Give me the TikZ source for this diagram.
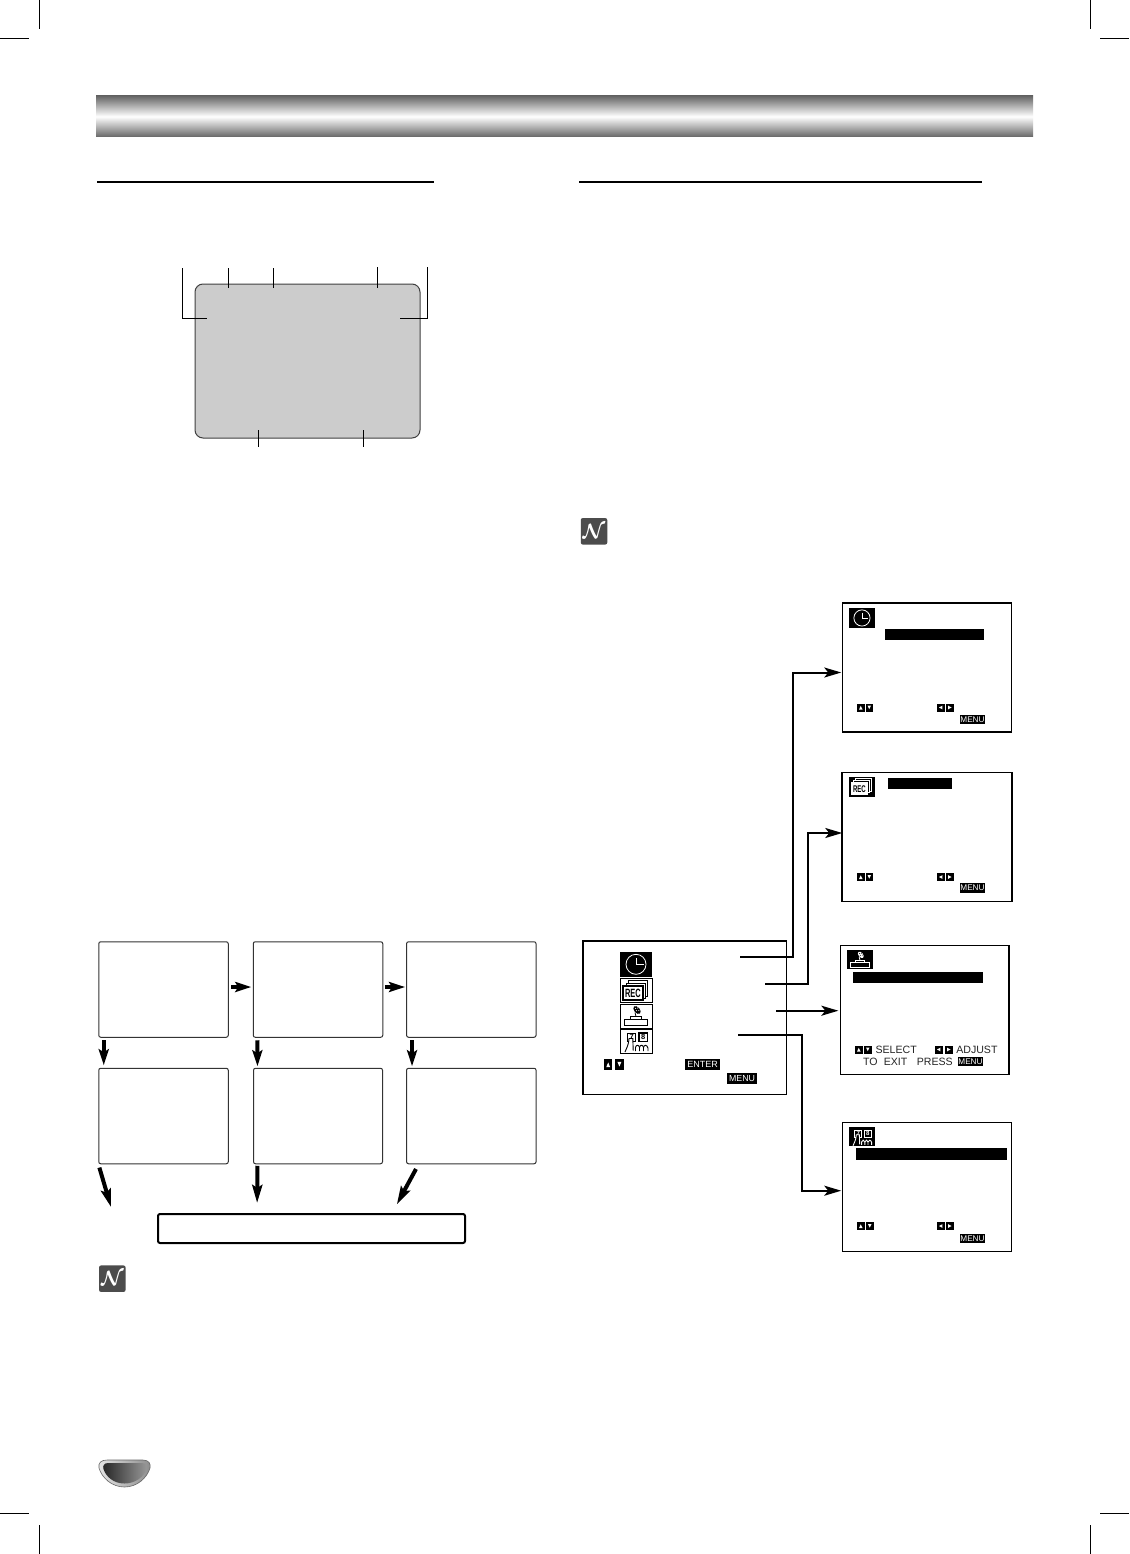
\documentclass[tikz,border=0pt]{standalone}
\usepackage{fontspec}
\setmainfont{Liberation Sans}
\usetikzlibrary{arrows.meta}
\definecolor{bargray}{gray}{0.40}
\definecolor{screengray}{gray}{0.80}
\definecolor{notegray}{gray}{0.30}
\tikzset{
  crop/.style={line width=1pt,black},
  rulehead/.style={line width=2pt,black},
  tick/.style={line width=1pt,black},
  flowbox/.style={draw=black!80,line width=1pt,rounded corners=2pt,fill=white,inner sep=0pt,outer sep=0pt,minimum width=129.5pt,minimum height=95.5pt},
  barbox/.style={draw=black,line width=2pt,rounded corners=2pt,fill=white,inner sep=0pt,outer sep=0pt,minimum width=307pt,minimum height=29pt},
  flowarrow/.style={line width=4pt,-{Stealth[length=16pt,width=10pt,inset=3pt]}},
  longarrow/.style={line width=4pt,-{Stealth[length=18pt,width=10pt,inset=3pt]}},
  menubox/.style={draw=black,line width=1.5pt,fill=white,inner sep=0pt,outer sep=0pt},
  screenbox/.style={draw=black,line width=1.2pt,fill=white,inner sep=0pt,outer sep=0pt,minimum width=169.5pt,minimum height=129pt},
  link/.style={line width=2pt,black,-{Stealth[length=17pt,width=10pt,inset=4pt]}},
  keylabel/.style={fill=black,text=white,inner sep=0pt,outer sep=0pt,font=\fontsize{8.2}{8.2}\selectfont},
  osd/.style={inner sep=0pt,outer sep=0pt,text=black!85,font=\fontsize{10.6}{10.6}\selectfont,anchor=west},
  notebadge/.style={fill=notegray,rounded corners=2pt,inner sep=0pt,outer sep=0pt,minimum width=26.5pt,minimum height=26.5pt,text=white,font=\fontsize{20.74}{20.74}\selectfont\boldmath},
}
\newcommand\btnU[2]{\begin{scope}[shift={(#1,#2)}]\fill[black] (0,0) rectangle (7.5,8);\fill[white] (2,6)--(5.5,6)--(3.75,2.4)--cycle;\end{scope}}
\newcommand\btnD[2]{\begin{scope}[shift={(#1,#2)}]\fill[black] (0,0) rectangle (7.5,8);\fill[white] (2,2)--(5.5,2)--(3.75,5.6)--cycle;\end{scope}}
\newcommand\btnL[2]{\begin{scope}[shift={(#1,#2)}]\fill[black] (0,0) rectangle (7.5,8);\fill[white] (5.3,2.2)--(5.3,5.8)--(2,4)--cycle;\end{scope}}
\newcommand\btnR[2]{\begin{scope}[shift={(#1,#2)}]\fill[black] (0,0) rectangle (7.5,8);\fill[white] (2.2,2.2)--(2.2,5.8)--(5.5,4)--cycle;\end{scope}}
% icons: drawn in a 32 x 24.5 box; #1 x, #2 y, #3 scale, #4 background, #5 ink
\newcommand\iconclock[5]{\begin{scope}[shift={(#1,#2)},scale=#3]
  \fill[#4] (0,0) rectangle (32,24.5);
  \draw[#5,line width=.8pt] (16,12.3) circle[radius=10];
  \draw[#5,line width=.8pt] (16,6) -- (16,12.3) -- (23.5,12.3);
\end{scope}}
\newcommand\iconrec[5]{\begin{scope}[shift={(#1,#2)},scale=#3,transform shape]
  \fill[#4] (0,0) rectangle (32,24.5);
  \draw[#5,line width=.9pt] (8,2.3) rectangle (27.5,17.6);
  \draw[#5,fill=#4,line width=.9pt] (6,4.5) rectangle (25.5,19.5);
  \draw[#5,fill=white,line width=1.6pt] (3,7.5) rectangle (22.8,21.5);
  \node[inner sep=0pt,text=black,font=\bfseries\fontsize{12}{12}\selectfont,xscale=.62] at (12.9,14.6) {REC};
\end{scope}}
\newcommand\icondish[5]{\begin{scope}[shift={(#1,#2)},scale=#3]
  \fill[#4] (0,0) rectangle (32,24);
  \draw[#5,line width=1pt] (4.2,15) rectangle (27.8,21.3);
  \draw[#5,line width=1pt] (10.5,15) -- (10.5,12.6) -- (21.5,12.6) -- (21.5,15);
  \draw[#5,line width=.8pt] (16,12.6) -- (15,8.5);
  \fill[#5,rotate around={40:(17,6)}] (17,6) ellipse[x radius=2.8,y radius=4.6];
  \fill[#4] (15.6,4.4) circle[radius=.6] (17.8,4) circle[radius=.6] (16.4,6.7) circle[radius=.6] (18.8,6.4) circle[radius=.6];
\end{scope}}
\newcommand\iconhand[5]{\begin{scope}[shift={(#1,#2)},scale=#3,transform shape]
  \fill[#4] (0,0) rectangle (32,24);
  \draw[#5,line width=.9pt] (7,4) rectangle (15.5,12.5);
  \draw[#5,line width=1.2pt] (19,4) rectangle (27.5,12.5);
  \node[inner sep=0pt,text=#5,font=\bfseries\fontsize{7.5}{7.5}\selectfont] at (11.6,8.2) {7};
  \node[inner sep=0pt,text=#5,font=\bfseries\fontsize{7.5}{7.5}\selectfont] at (23.3,8.2) {8};
  \fill[#4] (9,9.5) rectangle (13.2,14);
  \draw[#5,line width=.9pt] (5,23) .. controls (6,20) and (8.5,17) .. (9,9.5) -- (12.8,9.5) -- (13.2,21.5);
  \draw[#5,line width=.9pt] (15.5,22) -- (15.5,18.5) .. controls (16,15.5) and (19,15.5) .. (19.5,18.5) -- (19.5,22);
  \draw[#5,line width=.9pt] (19.5,18.5) .. controls (20,15.5) and (23,15.5) .. (23.5,18.5) -- (23.5,22);
  \draw[#5,line width=.9pt] (23.5,18.5) .. controls (24,15.5) and (27,15.5) .. (28,19) -- (28,22);
\end{scope}}
\begin{document}
\begin{tikzpicture}[x=1pt,y=-1pt]
\useasboundingbox (0,0) rectangle (1129,1554);
\fill[white] (0,0) rectangle (1129,1554);
% crop marks
\draw[crop] (39.5,0) -- (39.5,29) (0,39) -- (29,39);
\draw[crop] (1090,0) -- (1090,29) (1100,39) -- (1129,39);
\draw[crop] (39.5,1525) -- (39.5,1554) (0,1513.5) -- (29,1513.5);
\draw[crop] (1090,1525) -- (1090,1554) (1100,1513.5) -- (1129,1513.5);
% header bar
\shade[top color=bargray,bottom color=bargray,middle color=white] (96,96) rectangle (1033,137);
% section rules
\draw[rulehead] (97,182) -- (434,182);
\draw[rulehead] (579,182) -- (982,182);
% gray screen
\node[draw=black!75,line width=1pt,fill=screengray,rounded corners=8pt,inner sep=0pt,outer sep=0pt,minimum width=225pt,minimum height=154pt] (tvscreen) at (307.5,361) {};
\coordinate (bl) at (207,318);
\coordinate (br) at (400,318);
\draw[tick] (182.5,268) |- (bl);
\draw[tick] (228.5,268) -- (228.5,288);
\draw[tick] (273.5,268) -- (273.5,288);
\draw[tick] (377.5,267) -- (377.5,288);
\draw[tick] (427.5,267) |- (br);
\draw[tick] (258.5,430) -- (258.5,447);
\draw[tick] (363.5,430) -- (363.5,447);
% flow boxes
\node[flowbox] (f1) at (163.5,989.5) {};
\node[flowbox] (f2) at (318,989.5) {};
\node[flowbox] (f3) at (471.3,989.5) {};
\node[flowbox] (f4) at (163.5,1116) {};
\node[flowbox,minimum width=129pt] (f5) at (318,1116) {};
\node[flowbox] (f6) at (471.3,1116) {};
\node[barbox] (bar) at (311.5,1228.5) {};
\draw[flowarrow,shorten <=3pt,shorten >=2pt] ([yshift=2.5pt]f1.east) -- ([yshift=2.5pt]f2.west);
\draw[flowarrow,shorten <=2pt,shorten >=1.5pt] ([yshift=2.5pt]f2.east) -- ([yshift=2.5pt]f3.west);
\draw[flowarrow,shorten <=3pt,shorten >=3pt] ([xshift=5pt]f1.south west) -- ([xshift=5pt]f4.north west);
\draw[flowarrow,shorten <=3pt,shorten >=2pt] ([xshift=4pt]f2.south west) -- ([xshift=4pt]f5.north west);
\draw[flowarrow,shorten <=3pt,shorten >=2pt] ([xshift=5.5pt]f3.south west) -- ([xshift=5.5pt]f6.north west);
\coordinate (leftend) at (111,1207);
\draw[longarrow,shorten <=4pt] ([xshift=-.5pt]f4.south west) -- (leftend);
\draw[longarrow,shorten <=2pt,shorten >=11pt] ([xshift=4pt]f5.south west) -- ([xshift=-54.5pt]bar.north);
\coordinate (rightstart) at (416,1169);
\draw[longarrow,shorten >=11pt] (rightstart) -- ([xshift=233.6pt]bar.north west);
% note badges
\node[notebadge] (note1) at (112.3,1278.7) {$\mathcal{N}$};
\node[notebadge] (note2) at (594,531.3) {$\mathcal{N}$};
% main menu
\node[menubox,minimum width=203.5pt,minimum height=153.5pt] (menu) at (684.5,1017.5) {};
\iconclock{620}{952}{1}{black}{white}
\iconrec{620}{978.5}{1}{white}{black}
\draw[black,line width=.8pt] (620,978.5) rectangle (652,1002.5);
\icondish{620}{1004}{1}{white}{black}
\draw[black,line width=.8pt] (620,1004) rectangle (652,1028);
\iconhand{620}{1029}{1}{white}{black}
\draw[black,line width=.8pt] (620,1029) rectangle (652,1053);
\begin{scope}[shift={(604,1059.3)},xscale=1.12,yscale=1.3]
\btnU{0}{0}\btnD{10}{0}
\end{scope}
\node[keylabel,minimum width=35pt,minimum height=11pt,font=\fontsize{9}{9}\selectfont] (enterkey) at (702.5,1064.5) {ENTER};
\node[keylabel,minimum width=30pt,minimum height=11pt,font=\fontsize{8.8}{8.8}\selectfont] (menukey) at (742,1078.5) {MENU};
% screen 1
\node[screenbox] (s1) at (927,667.5) {};
\iconclock{849}{608}{.81}{black}{white}
\node[fill=black,inner sep=0pt,outer sep=0pt,minimum width=99pt,minimum height=11pt] (h1) at (934.5,634.5) {};
\btnU{857}{703.5}\btnD{865.5}{703.5}\btnL{937}{703.5}\btnR{946}{703.5}
\node[keylabel,minimum width=25pt,minimum height=9.5pt] (k1) at (972.5,719.5) {MENU};
% screen 2
\node[screenbox,line width=1.6pt] (s2) at (927,837) {};
\iconrec{849}{777}{.81}{black}{white}
\node[fill=black,inner sep=0pt,outer sep=0pt,minimum width=64pt,minimum height=11pt] (h2) at (920,783.5) {};
\btnU{857}{873}\btnD{865.5}{873}\btnL{937}{873}\btnR{946}{873}
\node[keylabel,minimum width=25pt,minimum height=9.5pt] (k2) at (972.5,888) {MENU};
% screen 3
\node[screenbox,minimum width=168.7pt] (s3) at (924.7,1010) {};
\icondish{847}{950}{.81}{black}{white}
\node[fill=black,inner sep=0pt,outer sep=0pt,minimum width=130pt,minimum height=11pt] (h3) at (918,977.5) {};
\btnU{855}{1045.5}\btnD{864}{1045.5}\btnL{935}{1045.5}\btnR{945}{1045.5}
\node[osd] (selectlab) at (875.5,1050) {SELECT};
\node[osd] (adjustlab) at (956.3,1050) {ADJUST};
\node[osd] (exitlab) at (863,1061.5) {TO\hspace{6.3pt}EXIT\hspace{9.4pt}PRESS};
\node[keylabel,minimum width=25pt,minimum height=9pt] (k3) at (970.5,1061.5) {MENU};
% screen 4
\node[screenbox] (s4) at (927,1186.8) {};
\iconhand{849}{1127}{.81}{black}{white}
\node[fill=black,inner sep=0pt,outer sep=0pt,minimum width=151pt,minimum height=12pt] (h4) at (931.5,1154) {};
\btnU{857}{1222}\btnD{866}{1222}\btnL{937}{1222}\btnR{946}{1222}
\node[keylabel,minimum width=25pt,minimum height=9pt] (k4) at (972.5,1238.5) {MENU};
% connectors
\coordinate (clockout) at (740,957);
\coordinate (recout) at (765,983.5);
\coordinate (dishout) at (776,1010.7);
\coordinate (handout) at (738,1034.7);
\coordinate (clockbend) at (793,672.5);
\coordinate (recbend) at (808,833);
\coordinate (handbend) at (801.7,1190.7);
\draw[link,shorten >=1pt] (clockout) -| (clockbend) -- ([yshift=-5pt]s1.west);
\draw[link] (recout) -| (recbend) -- ([yshift=4pt]s2.west);
\draw[link,shorten >=2pt] (dishout) -- ([yshift=-.7pt]s3.west);
\draw[link,shorten >=1pt] (handout) -| (handbend) -- ([yshift=-3.9pt]s4.west);
% page tab
\shade[left color=black!10,right color=black!45,draw=black!60,line width=.6pt]
  (107,1460) -- (143,1460) .. controls (149,1460) and (151,1464) .. (150,1468)
  .. controls (147,1478) and (137,1487) .. (124.5,1487)
  .. controls (112,1487) and (102,1478) .. (99,1468)
  .. controls (98,1463) and (101,1460) .. (107,1460) -- cycle;
\shade[left color=black!85,right color=black!40]
  (108,1463) -- (142,1463) .. controls (146,1463) and (147.5,1466) .. (146.5,1469)
  .. controls (144,1477) and (135,1483.5) .. (124.5,1483.5)
  .. controls (114,1483.5) and (106,1477) .. (103.5,1469)
  .. controls (102.5,1466) and (104,1463) .. (108,1463) -- cycle;
\end{tikzpicture}
\end{document}
